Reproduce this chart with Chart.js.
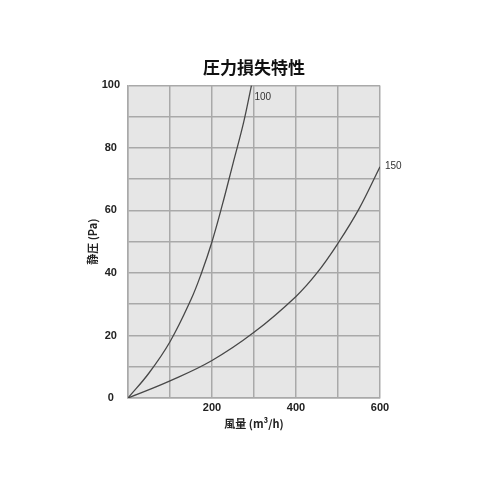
<!DOCTYPE html>
<html><head><meta charset="utf-8">
<script src="https://cdn.jsdelivr.net/npm/chart.js@4/dist/chart.umd.min.js"></script>
<style>html,body{margin:0;padding:0;background:#fff}</style>
</head><body>
<canvas id="c" width="500" height="500"></canvas>
<script>
const chartTitle = '圧力損失特性';
const xAxisTitle = '風量 (m³/h)';
const yAxisTitle = '静圧 (Pa)';
const seriesNames = ['100', '150'];
const flow100 = [0, 50, 100, 150, 175, 200, 225, 250, 275, 294];
const pressure100 = [0, 8, 18, 31.5, 40, 50, 62, 75, 88, 100];
const flow150 = [0, 100, 200, 300, 400, 450, 500, 550, 600];
const pressure150 = [0, 5.5, 12, 21, 32.5, 40, 49.5, 60.5, 74];
const xTickLabels = [200, 400, 600];
const yTickLabels = [0, 20, 40, 60, 80, 100];

const CJK = '"Noto Sans CJK JP", "Noto Sans", sans-serif';
const NUM = '"Liberation Sans", Arial, sans-serif';
const gridColor = '#a9a9a9';

const toPts = (xs, ys) => xs.map((x, i) => ({x: x, y: ys[i]}));

const bgPlugin = {
  id: 'bg',
  beforeDraw(chart) {
    const a = chart.chartArea, ctx = chart.ctx;
    ctx.save();
    ctx.fillStyle = '#e6e6e6';
    ctx.fillRect(a.left, a.top, a.right - a.left, a.bottom - a.top);
    ctx.restore();
  }
};

const labelOffsets = [{dx: 3, dy: 12}, {dx: 5, dy: 0}];
const curveLabelPlugin = {
  id: 'curveLabels',
  afterDatasetsDraw(chart) {
    const ctx = chart.ctx;
    ctx.save();
    ctx.font = '10px ' + NUM;
    ctx.fillStyle = '#333';
    ctx.textAlign = 'left';
    ctx.textBaseline = 'middle';
    chart.data.datasets.forEach((ds, i) => {
      const meta = chart.getDatasetMeta(i);
      const last = meta.data[meta.data.length - 1];
      ctx.fillText(ds.label, last.x + labelOffsets[i].dx, last.y + labelOffsets[i].dy);
    });
    ctx.restore();
  }
};

new Chart(document.getElementById('c'), {
  type: 'line',
  data: {
    datasets: [
      {label: seriesNames[0], data: toPts(flow100, pressure100)},
      {label: seriesNames[1], data: toPts(flow150, pressure150)}
    ].map(d => Object.assign(d, {
      borderColor: '#484848', borderWidth: 1.3, pointRadius: 0,
      fill: false, tension: 0.4
    }))
  },
  options: {
    responsive: false,
    animation: false,
    layout: {padding: {left: 86, right: 120, top: 0, bottom: 70}},
    plugins: {
      legend: {display: false},
      tooltip: {enabled: false},
      title: {
        display: true, text: chartTitle, fullSize: false,
        color: '#111', font: {family: CJK, size: 17, weight: 'bold'},
        padding: {top: 57, bottom: 8}
      }
    },
    scales: {
      x: {
        type: 'linear', min: 0, max: 600,
        grid: {color: gridColor, lineWidth: 1.5, drawTicks: false},
        border: {color: gridColor, width: 1.5},
        ticks: {
          stepSize: 100, autoSkip: false, maxRotation: 0, padding: 3,
          color: '#222', font: {family: NUM, size: 11, weight: 'bold'},
          callback: v => xTickLabels.includes(v) ? String(v) : ''
        },
        title: {display: true, text: xAxisTitle, color: '#222',
          font: {family: CJK, size: 11, weight: 'bold'}, padding: {top: 0, bottom: 0}},
        afterFit: s => { s.height = 32; }
      },
      y: {
        min: 0, max: 100,
        grid: {color: gridColor, lineWidth: 1.5, drawTicks: false},
        border: {color: gridColor, width: 1.5},
        ticks: {
          stepSize: 10, autoSkip: false, padding: 8, crossAlign: 'center',
          color: '#222', font: {family: NUM, size: 11, weight: 'bold'},
          callback: v => yTickLabels.includes(v) ? String(v) : ''
        },
        title: {display: true, text: yAxisTitle, color: '#222',
          font: {family: CJK, size: 11, weight: 'bold'}, padding: {top: 0, bottom: 0}},
        afterFit: s => { s.width = 42; }
      }
    }
  },
  plugins: [bgPlugin, curveLabelPlugin]
});
</script>
</body></html>
